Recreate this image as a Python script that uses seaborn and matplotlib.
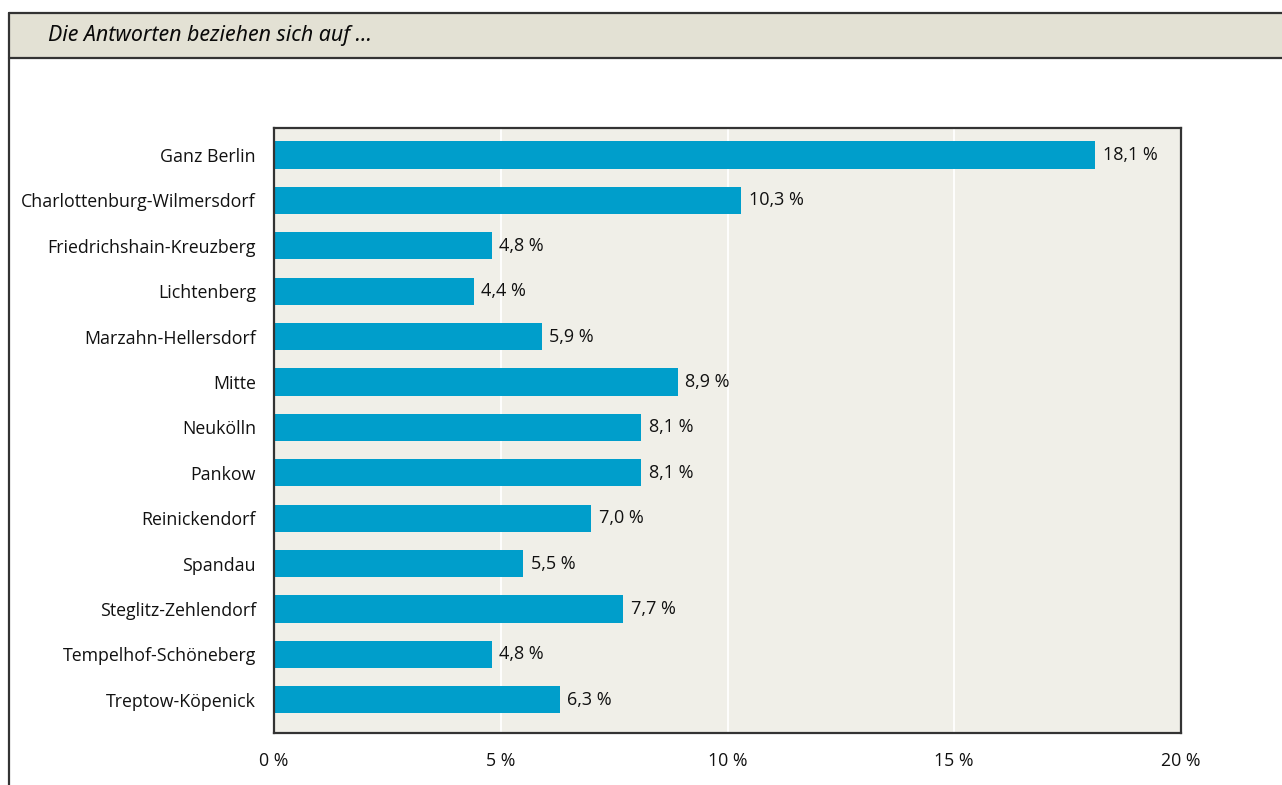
import matplotlib
matplotlib.use("Agg")
import matplotlib.pyplot as plt
import seaborn as sns
import pandas as pd
from matplotlib.patches import Rectangle
from matplotlib.lines import Line2D

districts = [
    "Ganz Berlin", "Charlottenburg-Wilmersdorf", "Friedrichshain-Kreuzberg",
    "Lichtenberg", "Marzahn-Hellersdorf", "Mitte", "Neukölln", "Pankow",
    "Reinickendorf", "Spandau", "Steglitz-Zehlendorf", "Tempelhof-Schöneberg",
    "Treptow-Köpenick",
]
shares = [18.1, 10.3, 4.8, 4.4, 5.9, 8.9, 8.1, 8.1, 7.0, 5.5, 7.7, 4.8, 6.3]
x_ticks = [0, 5, 10, 15, 20]
x_tick_labels = ["0 %", "5 %", "10 %", "15 %", "20 %"]
header_text = "Die Antworten beziehen sich auf ..."

sns.set_theme(style="white")
plt.rcParams["font.family"] = ["Open Sans", "DejaVu Sans"]

df = pd.DataFrame({"Bezirk": districts, "Anteil": shares})

W, H = 1282, 785
fig = plt.figure(figsize=(W / 100, H / 100), dpi=100)
fig.patch.set_facecolor("white")

# header band and outer frame
fig.patches.append(Rectangle((9 / W, 1 - 58 / H), 1 - 9 / W, 45 / H,
                             transform=fig.transFigure, facecolor="#e3e1d4",
                             edgecolor="none", zorder=0))
for xs, ys in [((9 / W, 1), (1 - 13 / H, 1 - 13 / H)),
               ((9 / W, 1), (1 - 58 / H, 1 - 58 / H)),
               ((9 / W, 9 / W), (0, 1 - 13 / H))]:
    fig.lines.append(Line2D(xs, ys, transform=fig.transFigure,
                            color="#333333", linewidth=1.6))
fig.text(48 / W, 1 - 36 / H, header_text, fontsize=15.4, style="italic",
         family=["Noto Sans", "DejaVu Sans"], fontweight="medium",
         color="#0a0a0a", va="center", ha="left")

ax = fig.add_axes([274 / W, 1 - 733 / H, (1181 - 274) / W, (733 - 128) / H])
ax.set_facecolor("#f0efe8")

sns.barplot(data=df, x="Anteil", y="Bezirk", orient="h", color="#009ecb",
            width=0.6, saturation=1, linewidth=0, ax=ax, zorder=3)

ax.set_xlim(0, 20)
ax.set_ylim(len(districts) - 1 + 0.73, -0.595)
ax.set_xticks(x_ticks)
ax.set_xticklabels(x_tick_labels)
for v in x_ticks[1:-1]:
    ax.axvline(v, color="white", linewidth=1.3, zorder=1)

for i, v in enumerate(shares):
    ax.text(v + 0.17, i, f"{v:.1f} %".replace(".", ","), va="center",
            ha="left", fontsize=13, color="#111111", zorder=4)

ax.set_xlabel("")
ax.set_ylabel("")
ax.tick_params(axis="both", length=0, labelsize=12.8, colors="#111111")
ax.tick_params(axis="x", pad=14)
ax.tick_params(axis="y", pad=13)
for s in ax.spines.values():
    s.set_visible(True)
    s.set_color("#333333")
    s.set_linewidth(1.6)
    s.set_zorder(5)

fig.savefig("out.png", dpi=100)
